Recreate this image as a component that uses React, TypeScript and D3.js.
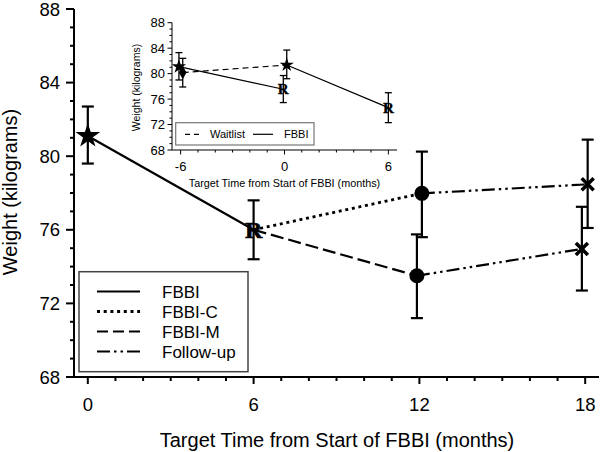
import React from "react";
import * as d3 from "d3";

// ---------- main chart data ----------
const fbbiMonths = [0, 6];
const fbbiWeights = [81.1, 76.0];
const fbbiLow = [79.6, 74.4];
const fbbiHigh = [82.7, 77.6];

const fbbiCMonths = [6, 12.09];
const fbbiCWeights = [76.0, 77.98];
const fbbiCLow = [75.6];
const fbbiCHigh = [80.25];

const fbbiMMonths = [6, 11.91];
const fbbiMWeights = [76.0, 73.5];
const fbbiMLow = [71.2];
const fbbiMHigh = [75.75];

const followCMonths = [12.09, 18.09];
const followCWeights = [77.98, 78.47];
const followCLow = [76.1];
const followCHigh = [80.9];

const followMMonths = [11.91, 17.88];
const followMWeights = [73.5, 74.96];
const followMLow = [72.7];
const followMHigh = [77.25];

const mainXTicks = [0, 6, 12, 18];
const mainYTicks = [68, 72, 76, 80, 84, 88];
const legendLabels = ["FBBI", "FBBI-C", "FBBI-M", "Follow-up"];

// ---------- inset data ----------
const insetFbbiMonths = [-6.1, -0.07];
const insetFbbiWeights = [81.1, 77.55];
const insetFbbiLow = [79.0, 75.45];
const insetFbbiHigh = [83.3, 79.7];

const waitMonths = [-5.88, 0.13];
const waitWeights = [80.16, 81.36];
const waitLow = [77.9, 79.2];
const waitHigh = [82.4, 83.7];

const waitFbbiMonths = [0.13, 6.0];
const waitFbbiWeights = [81.36, 74.65];
const waitFbbiLow = [72.3];
const waitFbbiHigh = [77.0];

const insetXTicks = [-6, 0, 6];
const insetYTicks = [68, 72, 76, 80, 84, 88];
const insetLegendLabels = ["Waitlist", "FBBI"];

const SANS = "'Liberation Sans', Arial, sans-serif";
const SERIF = "'Liberation Serif', 'Times New Roman', serif";

const DOT = "3 3.7";
const DASH = "13 5";
const DASHDOTDOT = "13 4 2.5 4 2.5 4";

export default function App() {
  // main scales
  const x = d3.scaleLinear().domain([-0.5, 18.5]).range([74, 599]);
  const y = d3.scaleLinear().domain([68, 88]).range([377, 9]);
  // inset scales
  const ix = d3.scaleLinear().domain([-6.5, 6.5]).range([172, 397]);
  const iy = d3.scaleLinear().domain([68, 88]).range([150, 22.7]);

  const line = (xs: number[], ys: number[], sx: any, sy: any) =>
    d3.line<number>().x((_, i) => sx(xs[i])).y((d) => sy(d))(ys) as string;

  const star = (r: number) => d3.symbol().type(d3.symbolStar).size((r * r) / 0.8908130915292852)() as string;
  const diamond = (s: number) => d3.symbol().type(d3.symbolDiamond).size(s)() as string;

  const errBar = (mx: number, lo: number, hi: number, sx: any, sy: any, cap: number, sw: number, key: string) => (
    <g key={key} stroke="#000" strokeWidth={sw} fill="none">
      <line x1={sx(mx)} x2={sx(mx)} y1={sy(lo)} y2={sy(hi)} />
      <line x1={sx(mx) - cap / 2} x2={sx(mx) + cap / 2} y1={sy(lo)} y2={sy(lo)} />
      <line x1={sx(mx) - cap / 2} x2={sx(mx) + cap / 2} y1={sy(hi)} y2={sy(hi)} />
    </g>
  );

  const xMark = (cx: number, cy: number, s: number, key: string) => (
    <g key={key} stroke="#000" strokeWidth={3.5}>
      <line x1={cx - s} x2={cx + s} y1={cy - s} y2={cy + s} />
      <line x1={cx - s} x2={cx + s} y1={cy + s} y2={cy - s} />
    </g>
  );

  const rMark = (cx: number, cy: number, fs: number, sw: number, key: string) => (
    <text
      key={key}
      x={cx}
      y={cy + fs * 0.33}
      textAnchor="middle"
      fontFamily={SERIF}
      fontWeight="bold"
      fontSize={fs}
      fill="#000"
      stroke="#000"
      strokeWidth={sw}
    >
      R
    </text>
  );

  const mainMinorX = d3.range(0, 19, 1);
  const mainMinorY = d3.range(68, 89, 1);
  const insetMinorX = d3.range(-6, 7, 1);
  const insetMinorY = d3.range(68, 89, 1);

  const legendDash = [null, DOT, "11 5", "13 4 2.5 4 2.5 4"];
  const legendRows = legendLabels.map((_, i) => 291.5 + i * 20);

  return (
    <svg width={600} height={452} style={{ position: "absolute", left: 0, top: 0, background: "#fff" }}>
      <rect x={0} y={0} width={600} height={452} fill="#fff" />

      {/* ---------- main axes ---------- */}
      <g stroke="#000" strokeWidth={2} fill="none">
        <line x1={74} x2={74} y1={y(88)} y2={y(68) + 1} />
        <line x1={69} x2={599} y1={y(68)} y2={y(68)} />
        {mainMinorY.map((v) => (
          <line key={"my" + v} x1={mainYTicks.includes(v) ? 66 : 70} x2={74} y1={y(v)} y2={y(v)} />
        ))}
        {mainMinorX.map((v) => (
          <line key={"mx" + v} x1={x(v)} x2={x(v)} y1={y(68)} y2={y(68) + (mainXTicks.includes(v) ? 7 : 4)} />
        ))}
      </g>
      <g fontFamily={SANS} fontSize={18.5} fill="#000">
        {mainYTicks.map((v) => (
          <text key={"yl" + v} x={60} y={y(v) + 6.5} textAnchor="end">
            {v}
          </text>
        ))}
        {mainXTicks.map((v) => (
          <text key={"xl" + v} x={x(v)} y={411} textAnchor="middle">
            {v}
          </text>
        ))}
      </g>
      <text x={337} y={447} textAnchor="middle" fontFamily={SANS} fontSize={20} fill="#000">
        Target Time from Start of FBBI (months)
      </text>
      <text transform="translate(17,192) rotate(-90)" textAnchor="middle" fontFamily={SANS} fontSize={20} fill="#000">
        Weight (kilograms)
      </text>

      {/* ---------- main lines ---------- */}
      <g fill="none" stroke="#000" strokeWidth={2.2}>
        <path d={line(fbbiMonths, fbbiWeights, x, y)} />
        <path d={line(fbbiCMonths, fbbiCWeights, x, y)} strokeDasharray={DOT} strokeWidth={2.8} />
        <path d={line(fbbiMMonths, fbbiMWeights, x, y)} strokeDasharray={DASH} />
        <path d={line(followCMonths, followCWeights, x, y)} strokeDasharray={DASHDOTDOT} />
        <path d={line(followMMonths, followMWeights, x, y)} strokeDasharray={DASHDOTDOT} />
      </g>

      {/* ---------- main error bars ---------- */}
      {fbbiMonths.map((m, i) => errBar(m, fbbiLow[i], fbbiHigh[i], x, y, 12, 2.2, "ef" + i))}
      {errBar(fbbiCMonths[1], fbbiCLow[0], fbbiCHigh[0], x, y, 12, 2.2, "ec")}
      {errBar(fbbiMMonths[1], fbbiMLow[0], fbbiMHigh[0], x, y, 12, 2.2, "em")}
      {errBar(followCMonths[1], followCLow[0], followCHigh[0], x, y, 12, 2.2, "efc")}
      {errBar(followMMonths[1], followMLow[0], followMHigh[0], x, y, 12, 2.2, "efm")}

      {/* ---------- main markers ---------- */}
      <path d={star(13)} transform={`translate(${x(fbbiMonths[0])},${y(fbbiWeights[0])})`} fill="#000" />
      {rMark(x(fbbiMonths[1]), y(fbbiWeights[1]), 24, 0.6, "r1")}
      <circle cx={x(fbbiCMonths[1])} cy={y(fbbiCWeights[1])} r={7.5} fill="#000" />
      <circle cx={x(fbbiMMonths[1])} cy={y(fbbiMWeights[1])} r={7.5} fill="#000" />
      {xMark(x(followCMonths[1]), y(followCWeights[1]), 6, "x1")}
      {xMark(x(followMMonths[1]), y(followMWeights[1]), 6, "x2")}

      {/* ---------- main legend ---------- */}
      <rect x={79} y={271.7} width={169} height={100} fill="#fff" stroke="#444" strokeWidth={1.5} />
      {legendLabels.map((lab, i) => (
        <g key={"lg" + i}>
          <line
            x1={97}
            x2={140}
            y1={legendRows[i]}
            y2={legendRows[i]}
            stroke="#000"
            strokeWidth={i === 1 ? 2.8 : 2.2}
            strokeDasharray={legendDash[i] ?? undefined}
          />
          <text x={162} y={legendRows[i] + 6} fontFamily={SANS} fontSize={17} fill="#000">
            {lab}
          </text>
        </g>
      ))}

      {/* ---------- inset ---------- */}
      <g stroke="#000" strokeWidth={1} fill="none">
        <line x1={172} x2={172} y1={iy(88)} y2={iy(68)} />
        <line x1={172} x2={397} y1={iy(68)} y2={iy(68)} />
        {insetMinorY.map((v) => (
          <line key={"iy" + v} x1={insetYTicks.includes(v) ? 167.5 : 169.5} x2={172} y1={iy(v)} y2={iy(v)} />
        ))}
        {insetMinorX.map((v) => (
          <line key={"ix" + v} x1={ix(v)} x2={ix(v)} y1={iy(68)} y2={iy(68) + (insetXTicks.includes(v) ? 4.5 : 2.5)} />
        ))}
      </g>
      <g fontFamily={SANS} fontSize={13} fill="#000">
        {insetYTicks.map((v) => (
          <text key={"iyl" + v} x={165} y={iy(v) + 4.5} textAnchor="end">
            {v}
          </text>
        ))}
        {insetXTicks.map((v) => (
          <text key={"ixl" + v} x={ix(v)} y={170.5} textAnchor="middle">
            {v}
          </text>
        ))}
      </g>
      <text x={284.5} y={187} textAnchor="middle" fontFamily={SANS} fontSize={10.8} fill="#000">
        Target Time from Start of FBBI (months)
      </text>
      <text transform="translate(139.5,87.5) rotate(-90)" textAnchor="middle" fontFamily={SANS} fontSize={10.5} fill="#000">
        Weight (kilograms)
      </text>

      <g fill="none" stroke="#000" strokeWidth={1.2}>
        <path d={line(insetFbbiMonths, insetFbbiWeights, ix, iy)} />
        <path d={line(waitMonths, waitWeights, ix, iy)} strokeDasharray="6 4" />
        <path d={line(waitFbbiMonths, waitFbbiWeights, ix, iy)} />
      </g>
      {insetFbbiMonths.map((m, i) => errBar(m, insetFbbiLow[i], insetFbbiHigh[i], ix, iy, 7, 1.3, "ief" + i))}
      {waitMonths.map((m, i) => errBar(m, waitLow[i], waitHigh[i], ix, iy, 7, 1.3, "iew" + i))}
      {errBar(waitFbbiMonths[1], waitFbbiLow[0], waitFbbiHigh[0], ix, iy, 7, 1.3, "iewf")}

      <path d={star(7.5)} transform={`translate(${ix(insetFbbiMonths[0])},${iy(insetFbbiWeights[0])})`} fill="#000" />
      <path d={diamond(50)} transform={`translate(${ix(waitMonths[0])},${iy(waitWeights[0])})`} fill="#000" />
      <path d={star(7.5)} transform={`translate(${ix(waitMonths[1])},${iy(waitWeights[1])})`} fill="#000" />
      {rMark(ix(insetFbbiMonths[1]), iy(insetFbbiWeights[1]), 15, 0.3, "ir1")}
      {rMark(ix(waitFbbiMonths[1]), iy(waitFbbiWeights[1]), 15, 0.3, "ir2")}

      {/* inset legend */}
      <rect x={175.7} y={122.7} width={138.3} height={22.3} fill="#fff" stroke="#777" strokeWidth={1.2} />
      <line x1={185} x2={200} y1={134.3} y2={134.3} stroke="#000" strokeWidth={1.2} strokeDasharray="5 4" />
      <text x={210} y={138.3} fontFamily={SANS} fontSize={11} fill="#000">
        {insetLegendLabels[0]}
      </text>
      <line x1={253} x2={273} y1={134.3} y2={134.3} stroke="#000" strokeWidth={1.2} />
      <text x={284} y={138.3} fontFamily={SANS} fontSize={11} fill="#000">
        {insetLegendLabels[1]}
      </text>
    </svg>
  );
}
